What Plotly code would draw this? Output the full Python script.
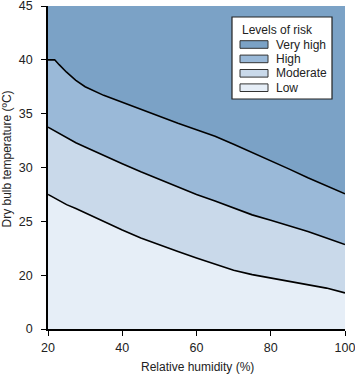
import plotly.graph_objects as go

# Relative humidity (%)
humidity = [20, 21.8, 23, 25, 27.5, 30, 35, 40, 45, 50, 55, 60, 65, 70, 75, 80, 85, 90, 95, 100]
# Boundary curves, dry bulb temperature (°C)
low_upper = [27.5, 27.15, 26.95, 26.55, 26.2, 25.8, 24.95, 24.2, 23.45, 22.8, 22.2, 21.6, 21.0, 20.45, 20.05, 19.75, 19.45, 19.15, 18.8, 18.35]
moderate_upper = [33.75, 33.4, 33.15, 32.75, 32.3, 31.9, 31.1, 30.35, 29.6, 28.9, 28.25, 27.5, 26.9, 26.25, 25.6, 25.1, 24.6, 24.05, 23.45, 22.85]
high_upper = [40.0, 40.0, 39.55, 38.85, 38.1, 37.5, 36.7, 36.05, 35.35, 34.7, 34.1, 33.5, 32.9, 32.15, 31.4, 30.6, 29.85, 29.05, 28.3, 27.55]
top_value = 45

# broken axis: the "0" tick is drawn where 15 would sit
y_tickvals = [15, 20, 25, 30, 35, 40, 45]
y_ticktext = ["0", "20", "25", "30", "35", "40", "45"]
x_tickvals = [20, 40, 60, 80, 100]

levels = ["Very high", "High", "Moderate", "Low"]
colors = {"Very high": "#7ba2c6", "High": "#9ab9d8", "Moderate": "#c9d9ea", "Low": "#e6eef7"}

fig = go.Figure()
fig.add_trace(go.Scatter(x=humidity, y=[15] * len(humidity), mode="lines",
                         line=dict(width=0), showlegend=False, hoverinfo="skip"))
fig.add_trace(go.Scatter(x=humidity, y=low_upper, mode="lines", fill="tonexty",
                         fillcolor=colors["Low"], line=dict(width=0), showlegend=False))
fig.add_trace(go.Scatter(x=humidity, y=moderate_upper, mode="lines", fill="tonexty",
                         fillcolor=colors["Moderate"], line=dict(width=0), showlegend=False))
fig.add_trace(go.Scatter(x=humidity, y=high_upper, mode="lines", fill="tonexty",
                         fillcolor=colors["High"], line=dict(width=0), showlegend=False))
fig.add_trace(go.Scatter(x=humidity, y=[top_value] * len(humidity), mode="lines", fill="tonexty",
                         fillcolor=colors["Very high"], line=dict(width=0), showlegend=False))
for curve in (low_upper, moderate_upper, high_upper):
    fig.add_trace(go.Scatter(x=humidity, y=curve, mode="lines",
                             line=dict(color="black", width=1.6),
                             showlegend=False))

# plot area pixel geometry
W, H = 355, 375
L, R, T, B = 48, 345, 6, 329
def px(x):
    return (x - L) / (R - L)
def py(y):
    return (B - y) / (B - T)

font = "Liberation Sans, Arial, sans-serif"
shapes = [dict(type="rect", xref="paper", yref="paper", x0=px(232), x1=px(332), y0=py(99), y1=py(17),
               line=dict(color="#222", width=1.2), fillcolor="white")]
annotations = [dict(text="Levels of risk", xref="paper", yref="paper", x=px(240), y=py(30),
                    xanchor="left", yanchor="middle", showarrow=False,
                    font=dict(family=font, size=12, color="#222")),
               dict(text="Relative humidity (%)", xref="paper", yref="paper", x=px(197), y=py(367),
                    xanchor="center", yanchor="middle", showarrow=False,
                    font=dict(family=font, size=12, color="#222")),
               dict(text="Dry bulb temperature (ºC)", xref="paper", yref="paper", x=px(6.5), y=py(159),
                    xanchor="center", yanchor="middle", showarrow=False, textangle=-90,
                    font=dict(family=font, size=12, color="#222"))]
for i, lev in enumerate(levels):
    yc = 44.5 + i * 14.4
    shapes.append(dict(type="rect", xref="paper", yref="paper", x0=px(240), x1=px(268),
                       y0=py(yc + 3.8), y1=py(yc - 3.8), fillcolor=colors[lev],
                       line=dict(color="#333", width=1)))
    annotations.append(dict(text=lev, xref="paper", yref="paper", x=px(274), y=py(yc),
                            xanchor="left", yanchor="middle", showarrow=False,
                            font=dict(family=font, size=12, color="#222")))

fig.update_layout(
    width=W, height=H,
    margin=dict(l=L, r=W - R, t=T, b=H - B, autoexpand=False),
    paper_bgcolor="white", plot_bgcolor="white",
    font=dict(family=font, size=12, color="#222"),
    shapes=shapes, annotations=annotations,
    xaxis=dict(range=[20, 100], tickvals=x_tickvals, showgrid=False, zeroline=False,
               showline=True, linecolor="black", linewidth=1.5, ticks="outside",
               ticklen=5, tickcolor="black", tickfont=dict(size=12.5),
               automargin=False, ticklabeloverflow="allow", ticklabelstandoff=1),
    yaxis=dict(range=[15, 45], tickvals=y_tickvals, ticktext=y_ticktext, showgrid=False,
               zeroline=False, showline=True, linecolor="black", linewidth=1.5,
               ticks="outside", ticklen=5, tickcolor="black", tickfont=dict(size=12.5),
               automargin=False, ticklabeloverflow="allow", ticklabelstandoff=6),
)
fig.write_html("out.html", config={"displayModeBar": False},
               post_script="document.body.style.margin='0';document.body.style.overflow='hidden';")
